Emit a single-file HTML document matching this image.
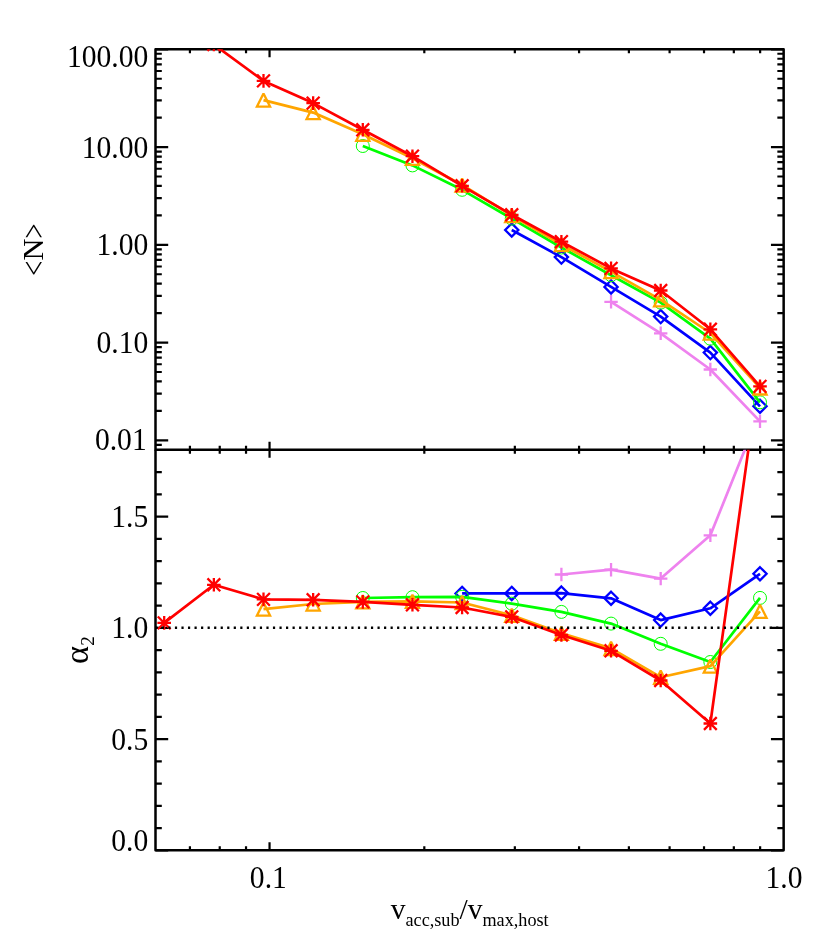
<!DOCTYPE html>
<html><head><meta charset="utf-8"><title>plot</title>
<style>html,body{margin:0;padding:0;background:#fff}svg{display:block;will-change:transform}text{font-family:"Liberation Serif",serif;fill:#000}</style></head><body>
<svg width="830" height="949" viewBox="0 0 830 949">
<rect width="830" height="949" fill="#fff"/>
<defs><clipPath id="c1"><rect x="155.5" y="49.3" width="628.15" height="400.5"/></clipPath><clipPath id="c2"><rect x="155.5" y="449.8" width="628.15" height="400.5"/></clipPath></defs>
<path d="M189.92 49.3v4M189.92 449.8v-4M219.73 49.3v4M219.73 449.8v-4M246.03 49.3v4M246.03 449.8v-4M269.55 49.3v8M269.55 449.8v-8M424.31 49.3v4M424.31 449.8v-4M514.84 49.3v4M514.84 449.8v-4M579.07 49.3v4M579.07 449.8v-4M628.89 49.3v4M628.89 449.8v-4M669.6 49.3v4M669.6 449.8v-4M704.02 49.3v4M704.02 449.8v-4M733.83 49.3v4M733.83 449.8v-4M760.13 49.3v4M760.13 449.8v-4M155.5 444.8h6.3M783.65 444.8h-6.3M155.5 440.33h12.7M783.65 440.33h-12.7M155.5 410.9h6.3M783.65 410.9h-6.3M155.5 393.68h6.3M783.65 393.68h-6.3M155.5 381.47h6.3M783.65 381.47h-6.3M155.5 372h6.3M783.65 372h-6.3M155.5 364.26h6.3M783.65 364.26h-6.3M155.5 357.71h6.3M783.65 357.71h-6.3M155.5 352.04h6.3M783.65 352.04h-6.3M155.5 347.04h6.3M783.65 347.04h-6.3M155.5 342.57h12.7M783.65 342.57h-12.7M155.5 313.14h6.3M783.65 313.14h-6.3M155.5 295.93h6.3M783.65 295.93h-6.3M155.5 283.71h6.3M783.65 283.71h-6.3M155.5 274.24h6.3M783.65 274.24h-6.3M155.5 266.5h6.3M783.65 266.5h-6.3M155.5 259.96h6.3M783.65 259.96h-6.3M155.5 254.29h6.3M783.65 254.29h-6.3M155.5 249.29h6.3M783.65 249.29h-6.3M155.5 244.81h12.7M783.65 244.81h-12.7M155.5 215.39h6.3M783.65 215.39h-6.3M155.5 198.17h6.3M783.65 198.17h-6.3M155.5 185.96h6.3M783.65 185.96h-6.3M155.5 176.48h6.3M783.65 176.48h-6.3M155.5 168.74h6.3M783.65 168.74h-6.3M155.5 162.2h6.3M783.65 162.2h-6.3M155.5 156.53h6.3M783.65 156.53h-6.3M155.5 151.53h6.3M783.65 151.53h-6.3M155.5 147.06h12.7M783.65 147.06h-12.7M155.5 117.63h6.3M783.65 117.63h-6.3M155.5 100.41h6.3M783.65 100.41h-6.3M155.5 88.2h6.3M783.65 88.2h-6.3M155.5 78.73h6.3M783.65 78.73h-6.3M155.5 70.99h6.3M783.65 70.99h-6.3M155.5 64.44h6.3M783.65 64.44h-6.3M155.5 58.77h6.3M783.65 58.77h-6.3M155.5 53.77h6.3M783.65 53.77h-6.3M155.5 49.3h12.7M783.65 49.3h-12.7" stroke="#000" stroke-width="2.2" fill="none"/><rect x="155.5" y="49.3" width="628.15" height="400.5" stroke="#000" stroke-width="2.5" fill="none" stroke-linejoin="round"/>
<g clip-path="url(#c1)">
<polyline points="611.05,301.8 660.7,333.3 710.35,369.5 760,421.4" stroke="#ee82ee" stroke-width="2.7" fill="none" stroke-linejoin="round"/>
<path d="M604.35 301.8H617.75M611.05 295.1V308.5" stroke="#ee82ee" stroke-width="2.3" fill="none"/>
<path d="M654 333.3H667.4M660.7 326.6V340" stroke="#ee82ee" stroke-width="2.3" fill="none"/>
<path d="M703.65 369.5H717.05M710.35 362.8V376.2" stroke="#ee82ee" stroke-width="2.3" fill="none"/>
<path d="M753.3 421.4H766.7M760 414.7V428.1" stroke="#ee82ee" stroke-width="2.3" fill="none"/>
<polyline points="511.75,230 561.4,257.1 611.05,286.9 660.7,316.6 710.35,352.6 760,406.3" stroke="#0000ff" stroke-width="2.7" fill="none" stroke-linejoin="round"/>
<path d="M511.75 223.4L518.35 230L511.75 236.6L505.15 230Z" stroke="#0000ff" stroke-width="2.3" fill="none"/>
<path d="M561.4 250.5L568 257.1L561.4 263.7L554.8 257.1Z" stroke="#0000ff" stroke-width="2.3" fill="none"/>
<path d="M611.05 280.3L617.65 286.9L611.05 293.5L604.45 286.9Z" stroke="#0000ff" stroke-width="2.3" fill="none"/>
<path d="M660.7 310L667.3 316.6L660.7 323.2L654.1 316.6Z" stroke="#0000ff" stroke-width="2.3" fill="none"/>
<path d="M710.35 346L716.95 352.6L710.35 359.2L703.75 352.6Z" stroke="#0000ff" stroke-width="2.3" fill="none"/>
<path d="M760 399.7L766.6 406.3L760 412.9L753.4 406.3Z" stroke="#0000ff" stroke-width="2.3" fill="none"/>
<polyline points="362.8,146 412.45,165.4 462.1,189.8 511.75,218.6 561.4,247.5 611.05,275.2 660.7,302.6 710.35,338.7 760,402.3" stroke="#00ff00" stroke-width="2.7" fill="none" stroke-linejoin="round"/>
<circle cx="362.8" cy="146" r="6.5" stroke="#00ff00" stroke-width="1" fill="none"/>
<circle cx="412.45" cy="165.4" r="6.5" stroke="#00ff00" stroke-width="1" fill="none"/>
<circle cx="462.1" cy="189.8" r="6.5" stroke="#00ff00" stroke-width="1" fill="none"/>
<circle cx="511.75" cy="218.6" r="6.5" stroke="#00ff00" stroke-width="1" fill="none"/>
<circle cx="561.4" cy="247.5" r="6.5" stroke="#00ff00" stroke-width="1" fill="none"/>
<circle cx="611.05" cy="275.2" r="6.5" stroke="#00ff00" stroke-width="1" fill="none"/>
<circle cx="660.7" cy="302.6" r="6.5" stroke="#00ff00" stroke-width="1" fill="none"/>
<circle cx="710.35" cy="338.7" r="6.5" stroke="#00ff00" stroke-width="1" fill="none"/>
<circle cx="760" cy="402.3" r="6.5" stroke="#00ff00" stroke-width="1" fill="none"/>
<polyline points="263.5,100.1 313.15,112.6 362.8,134.3 412.45,158.2 462.1,185 511.75,215.5 561.4,244.6 611.05,271.6 660.7,299.8 710.35,333 760,387.9" stroke="#ffa500" stroke-width="2.7" fill="none" stroke-linejoin="round"/>
<path d="M263.5 93.5L270.1 106.7L256.9 106.7Z" stroke="#ffa500" stroke-width="2.3" fill="none" stroke-linejoin="miter" stroke-miterlimit="2"/>
<path d="M313.15 106L319.75 119.2L306.55 119.2Z" stroke="#ffa500" stroke-width="2.3" fill="none" stroke-linejoin="miter" stroke-miterlimit="2"/>
<path d="M362.8 127.7L369.4 140.9L356.2 140.9Z" stroke="#ffa500" stroke-width="2.3" fill="none" stroke-linejoin="miter" stroke-miterlimit="2"/>
<path d="M412.45 151.6L419.05 164.8L405.85 164.8Z" stroke="#ffa500" stroke-width="2.3" fill="none" stroke-linejoin="miter" stroke-miterlimit="2"/>
<path d="M462.1 178.4L468.7 191.6L455.5 191.6Z" stroke="#ffa500" stroke-width="2.3" fill="none" stroke-linejoin="miter" stroke-miterlimit="2"/>
<path d="M511.75 208.9L518.35 222.1L505.15 222.1Z" stroke="#ffa500" stroke-width="2.3" fill="none" stroke-linejoin="miter" stroke-miterlimit="2"/>
<path d="M561.4 238L568 251.2L554.8 251.2Z" stroke="#ffa500" stroke-width="2.3" fill="none" stroke-linejoin="miter" stroke-miterlimit="2"/>
<path d="M611.05 265L617.65 278.2L604.45 278.2Z" stroke="#ffa500" stroke-width="2.3" fill="none" stroke-linejoin="miter" stroke-miterlimit="2"/>
<path d="M660.7 293.2L667.3 306.4L654.1 306.4Z" stroke="#ffa500" stroke-width="2.3" fill="none" stroke-linejoin="miter" stroke-miterlimit="2"/>
<path d="M710.35 326.4L716.95 339.6L703.75 339.6Z" stroke="#ffa500" stroke-width="2.3" fill="none" stroke-linejoin="miter" stroke-miterlimit="2"/>
<path d="M760 381.3L766.6 394.5L753.4 394.5Z" stroke="#ffa500" stroke-width="2.3" fill="none" stroke-linejoin="miter" stroke-miterlimit="2"/>
<polyline points="213.85,44.5 263.5,80.9 313.15,103.1 362.8,129.8 412.45,156.2 462.1,185.8 511.75,214.8 561.4,241.7 611.05,268.4 660.7,290.5 710.35,329.3 760,386.4" stroke="#ff0000" stroke-width="2.7" fill="none" stroke-linejoin="round"/>
<path d="M207.05 44.5H220.65M213.85 37.7V51.3M207.45 38.1L220.25 50.9M207.45 50.9L220.25 38.1" stroke="#ff0000" stroke-width="2.3" fill="none"/>
<path d="M256.7 80.9H270.3M263.5 74.1V87.7M257.1 74.5L269.9 87.3M257.1 87.3L269.9 74.5" stroke="#ff0000" stroke-width="2.3" fill="none"/>
<path d="M306.35 103.1H319.95M313.15 96.3V109.9M306.75 96.7L319.55 109.5M306.75 109.5L319.55 96.7" stroke="#ff0000" stroke-width="2.3" fill="none"/>
<path d="M356 129.8H369.6M362.8 123V136.6M356.4 123.4L369.2 136.2M356.4 136.2L369.2 123.4" stroke="#ff0000" stroke-width="2.3" fill="none"/>
<path d="M405.65 156.2H419.25M412.45 149.4V163M406.05 149.8L418.85 162.6M406.05 162.6L418.85 149.8" stroke="#ff0000" stroke-width="2.3" fill="none"/>
<path d="M455.3 185.8H468.9M462.1 179V192.6M455.7 179.4L468.5 192.2M455.7 192.2L468.5 179.4" stroke="#ff0000" stroke-width="2.3" fill="none"/>
<path d="M504.95 214.8H518.55M511.75 208V221.6M505.35 208.4L518.15 221.2M505.35 221.2L518.15 208.4" stroke="#ff0000" stroke-width="2.3" fill="none"/>
<path d="M554.6 241.7H568.2M561.4 234.9V248.5M555 235.3L567.8 248.1M555 248.1L567.8 235.3" stroke="#ff0000" stroke-width="2.3" fill="none"/>
<path d="M604.25 268.4H617.85M611.05 261.6V275.2M604.65 262L617.45 274.8M604.65 274.8L617.45 262" stroke="#ff0000" stroke-width="2.3" fill="none"/>
<path d="M653.9 290.5H667.5M660.7 283.7V297.3M654.3 284.1L667.1 296.9M654.3 296.9L667.1 284.1" stroke="#ff0000" stroke-width="2.3" fill="none"/>
<path d="M703.55 329.3H717.15M710.35 322.5V336.1M703.95 322.9L716.75 335.7M703.95 335.7L716.75 322.9" stroke="#ff0000" stroke-width="2.3" fill="none"/>
<path d="M753.2 386.4H766.8M760 379.6V393.2M753.6 380L766.4 392.8M753.6 392.8L766.4 380" stroke="#ff0000" stroke-width="2.3" fill="none"/>
</g>
<path d="M189.92 449.8v4M189.92 850.3v-4M219.73 449.8v4M219.73 850.3v-4M246.03 449.8v4M246.03 850.3v-4M269.55 449.8v8M269.55 850.3v-8M424.31 449.8v4M424.31 850.3v-4M514.84 449.8v4M514.84 850.3v-4M579.07 449.8v4M579.07 850.3v-4M628.89 449.8v4M628.89 850.3v-4M669.6 449.8v4M669.6 850.3v-4M704.02 449.8v4M704.02 850.3v-4M733.83 449.8v4M733.83 850.3v-4M760.13 449.8v4M760.13 850.3v-4M155.5 850.3h12.7M783.65 850.3h-12.7M155.5 828.05h6.3M783.65 828.05h-6.3M155.5 805.8h6.3M783.65 805.8h-6.3M155.5 783.55h6.3M783.65 783.55h-6.3M155.5 761.3h6.3M783.65 761.3h-6.3M155.5 739.05h12.7M783.65 739.05h-12.7M155.5 716.8h6.3M783.65 716.8h-6.3M155.5 694.55h6.3M783.65 694.55h-6.3M155.5 672.3h6.3M783.65 672.3h-6.3M155.5 650.05h6.3M783.65 650.05h-6.3M155.5 627.8h12.7M783.65 627.8h-12.7M155.5 605.55h6.3M783.65 605.55h-6.3M155.5 583.3h6.3M783.65 583.3h-6.3M155.5 561.05h6.3M783.65 561.05h-6.3M155.5 538.8h6.3M783.65 538.8h-6.3M155.5 516.55h12.7M783.65 516.55h-12.7M155.5 494.3h6.3M783.65 494.3h-6.3M155.5 472.05h6.3M783.65 472.05h-6.3" stroke="#000" stroke-width="2.2" fill="none"/><path d="M155.5 449.8V850.3H783.65V449.8" stroke="#000" stroke-width="2.5" fill="none" stroke-linejoin="round"/>
<g clip-path="url(#c2)">
<polyline points="561.4,574.5 611.05,569.7 660.7,578.6 710.35,535.3 760,412" stroke="#ee82ee" stroke-width="2.7" fill="none" stroke-linejoin="round"/>
<path d="M554.7 574.5H568.1M561.4 567.8V581.2" stroke="#ee82ee" stroke-width="2.3" fill="none"/>
<path d="M604.35 569.7H617.75M611.05 563V576.4" stroke="#ee82ee" stroke-width="2.3" fill="none"/>
<path d="M654 578.6H667.4M660.7 571.9V585.3" stroke="#ee82ee" stroke-width="2.3" fill="none"/>
<path d="M703.65 535.3H717.05M710.35 528.6V542" stroke="#ee82ee" stroke-width="2.3" fill="none"/>
<path d="M753.3 412H766.7M760 405.3V418.7" stroke="#ee82ee" stroke-width="2.3" fill="none"/>
<polyline points="462.1,593.4 511.75,593.4 561.4,593.1 611.05,598.3 660.7,620.1 710.35,608.3 760,573.8" stroke="#0000ff" stroke-width="2.7" fill="none" stroke-linejoin="round"/>
<path d="M462.1 586.8L468.7 593.4L462.1 600L455.5 593.4Z" stroke="#0000ff" stroke-width="2.3" fill="none"/>
<path d="M511.75 586.8L518.35 593.4L511.75 600L505.15 593.4Z" stroke="#0000ff" stroke-width="2.3" fill="none"/>
<path d="M561.4 586.5L568 593.1L561.4 599.7L554.8 593.1Z" stroke="#0000ff" stroke-width="2.3" fill="none"/>
<path d="M611.05 591.7L617.65 598.3L611.05 604.9L604.45 598.3Z" stroke="#0000ff" stroke-width="2.3" fill="none"/>
<path d="M660.7 613.5L667.3 620.1L660.7 626.7L654.1 620.1Z" stroke="#0000ff" stroke-width="2.3" fill="none"/>
<path d="M710.35 601.7L716.95 608.3L710.35 614.9L703.75 608.3Z" stroke="#0000ff" stroke-width="2.3" fill="none"/>
<path d="M760 567.2L766.6 573.8L760 580.4L753.4 573.8Z" stroke="#0000ff" stroke-width="2.3" fill="none"/>
<polyline points="362.8,598 412.45,597.2 462.1,596.8 511.75,603.7 561.4,611.9 611.05,623.6 660.7,643.8 710.35,662 760,597.9" stroke="#00ff00" stroke-width="2.7" fill="none" stroke-linejoin="round"/>
<circle cx="362.8" cy="598" r="6.5" stroke="#00ff00" stroke-width="1" fill="none"/>
<circle cx="412.45" cy="597.2" r="6.5" stroke="#00ff00" stroke-width="1" fill="none"/>
<circle cx="462.1" cy="596.8" r="6.5" stroke="#00ff00" stroke-width="1" fill="none"/>
<circle cx="511.75" cy="603.7" r="6.5" stroke="#00ff00" stroke-width="1" fill="none"/>
<circle cx="561.4" cy="611.9" r="6.5" stroke="#00ff00" stroke-width="1" fill="none"/>
<circle cx="611.05" cy="623.6" r="6.5" stroke="#00ff00" stroke-width="1" fill="none"/>
<circle cx="660.7" cy="643.8" r="6.5" stroke="#00ff00" stroke-width="1" fill="none"/>
<circle cx="710.35" cy="662" r="6.5" stroke="#00ff00" stroke-width="1" fill="none"/>
<circle cx="760" cy="597.9" r="6.5" stroke="#00ff00" stroke-width="1" fill="none"/>
<polyline points="263.5,609.1 313.15,604 362.8,601.8 412.45,601.3 462.1,602.5 511.75,615.3 561.4,633.3 611.05,648.4 660.7,677.2 710.35,666.1 760,611.3" stroke="#ffa500" stroke-width="2.7" fill="none" stroke-linejoin="round"/>
<path d="M263.5 602.5L270.1 615.7L256.9 615.7Z" stroke="#ffa500" stroke-width="2.3" fill="none" stroke-linejoin="miter" stroke-miterlimit="2"/>
<path d="M313.15 597.4L319.75 610.6L306.55 610.6Z" stroke="#ffa500" stroke-width="2.3" fill="none" stroke-linejoin="miter" stroke-miterlimit="2"/>
<path d="M362.8 595.2L369.4 608.4L356.2 608.4Z" stroke="#ffa500" stroke-width="2.3" fill="none" stroke-linejoin="miter" stroke-miterlimit="2"/>
<path d="M412.45 594.7L419.05 607.9L405.85 607.9Z" stroke="#ffa500" stroke-width="2.3" fill="none" stroke-linejoin="miter" stroke-miterlimit="2"/>
<path d="M462.1 595.9L468.7 609.1L455.5 609.1Z" stroke="#ffa500" stroke-width="2.3" fill="none" stroke-linejoin="miter" stroke-miterlimit="2"/>
<path d="M511.75 608.7L518.35 621.9L505.15 621.9Z" stroke="#ffa500" stroke-width="2.3" fill="none" stroke-linejoin="miter" stroke-miterlimit="2"/>
<path d="M561.4 626.7L568 639.9L554.8 639.9Z" stroke="#ffa500" stroke-width="2.3" fill="none" stroke-linejoin="miter" stroke-miterlimit="2"/>
<path d="M611.05 641.8L617.65 655L604.45 655Z" stroke="#ffa500" stroke-width="2.3" fill="none" stroke-linejoin="miter" stroke-miterlimit="2"/>
<path d="M660.7 670.6L667.3 683.8L654.1 683.8Z" stroke="#ffa500" stroke-width="2.3" fill="none" stroke-linejoin="miter" stroke-miterlimit="2"/>
<path d="M710.35 659.5L716.95 672.7L703.75 672.7Z" stroke="#ffa500" stroke-width="2.3" fill="none" stroke-linejoin="miter" stroke-miterlimit="2"/>
<path d="M760 604.7L766.6 617.9L753.4 617.9Z" stroke="#ffa500" stroke-width="2.3" fill="none" stroke-linejoin="miter" stroke-miterlimit="2"/>
<polyline points="164.2,622.9 213.85,584.8 263.5,599.4 313.15,599.8 362.8,601.9 412.45,604.8 462.1,607.5 511.75,616.9 561.4,635 611.05,650.8 660.7,680.5 710.35,723.5 760,366" stroke="#ff0000" stroke-width="2.7" fill="none" stroke-linejoin="round"/>
<path d="M157.4 622.9H171M164.2 616.1V629.7M157.8 616.5L170.6 629.3M157.8 629.3L170.6 616.5" stroke="#ff0000" stroke-width="2.3" fill="none"/>
<path d="M207.05 584.8H220.65M213.85 578V591.6M207.45 578.4L220.25 591.2M207.45 591.2L220.25 578.4" stroke="#ff0000" stroke-width="2.3" fill="none"/>
<path d="M256.7 599.4H270.3M263.5 592.6V606.2M257.1 593L269.9 605.8M257.1 605.8L269.9 593" stroke="#ff0000" stroke-width="2.3" fill="none"/>
<path d="M306.35 599.8H319.95M313.15 593V606.6M306.75 593.4L319.55 606.2M306.75 606.2L319.55 593.4" stroke="#ff0000" stroke-width="2.3" fill="none"/>
<path d="M356 601.9H369.6M362.8 595.1V608.7M356.4 595.5L369.2 608.3M356.4 608.3L369.2 595.5" stroke="#ff0000" stroke-width="2.3" fill="none"/>
<path d="M405.65 604.8H419.25M412.45 598V611.6M406.05 598.4L418.85 611.2M406.05 611.2L418.85 598.4" stroke="#ff0000" stroke-width="2.3" fill="none"/>
<path d="M455.3 607.5H468.9M462.1 600.7V614.3M455.7 601.1L468.5 613.9M455.7 613.9L468.5 601.1" stroke="#ff0000" stroke-width="2.3" fill="none"/>
<path d="M504.95 616.9H518.55M511.75 610.1V623.7M505.35 610.5L518.15 623.3M505.35 623.3L518.15 610.5" stroke="#ff0000" stroke-width="2.3" fill="none"/>
<path d="M554.6 635H568.2M561.4 628.2V641.8M555 628.6L567.8 641.4M555 641.4L567.8 628.6" stroke="#ff0000" stroke-width="2.3" fill="none"/>
<path d="M604.25 650.8H617.85M611.05 644V657.6M604.65 644.4L617.45 657.2M604.65 657.2L617.45 644.4" stroke="#ff0000" stroke-width="2.3" fill="none"/>
<path d="M653.9 680.5H667.5M660.7 673.7V687.3M654.3 674.1L667.1 686.9M654.3 686.9L667.1 674.1" stroke="#ff0000" stroke-width="2.3" fill="none"/>
<path d="M703.55 723.5H717.15M710.35 716.7V730.3M703.95 717.1L716.75 729.9M703.95 729.9L716.75 717.1" stroke="#ff0000" stroke-width="2.3" fill="none"/>
<path d="M753.2 366H766.8M760 359.2V372.8M753.6 359.6L766.4 372.4M753.6 372.4L766.4 359.6" stroke="#ff0000" stroke-width="2.3" fill="none"/>
</g>
<line x1="155.3" y1="627.8" x2="783.65" y2="627.8" stroke="#000" stroke-width="2.4" stroke-dasharray="2.2 4.335"/>
<text transform="translate(148.3 67.1) scale(1 1.045)" font-size="29.6" text-anchor="end">100.00</text>
<text transform="translate(148.3 157.56) scale(1 1.045)" font-size="29.6" text-anchor="end">10.00</text>
<text transform="translate(148.3 255.31) scale(1 1.045)" font-size="29.6" text-anchor="end">1.00</text>
<text transform="translate(148.3 353.07) scale(1 1.045)" font-size="29.6" text-anchor="end">0.10</text>
<text transform="translate(146.7 450.3) scale(1 1.045)" font-size="29.6" text-anchor="end">0.01</text>
<text transform="translate(148.3 527.05) scale(1 1.045)" font-size="29.6" text-anchor="end">1.5</text>
<text transform="translate(148.3 638.3) scale(1 1.045)" font-size="29.6" text-anchor="end">1.0</text>
<text transform="translate(148.3 749.55) scale(1 1.045)" font-size="29.6" text-anchor="end">0.5</text>
<text transform="translate(148.3 850.7) scale(1 1.045)" font-size="29.6" text-anchor="end">0.0</text>
<text transform="translate(268.35 887.7) scale(1 1.045)" font-size="29.6" text-anchor="middle">0.1</text>
<text transform="translate(784.05 887.7) scale(1 1.045)" font-size="29.6" text-anchor="middle">1.0</text>
<text x="469.7" y="919" font-size="29.5" text-anchor="middle">v<tspan font-size="18.2" dy="7">acc,sub</tspan><tspan dy="-7">/v</tspan><tspan font-size="18.2" dy="7">max,host</tspan></text>
<text transform="translate(43.3 249.6) rotate(-90) scale(1.03 1.02)" font-size="29.5" text-anchor="middle">N</text>
<text transform="translate(44.6 268.3) rotate(-90) scale(0.9 1.15)" font-size="29.5" text-anchor="middle">&lt;</text>
<text transform="translate(44.6 230.9) rotate(-90) scale(0.9 1.15)" font-size="29.5" text-anchor="middle">&gt;</text>
<text transform="translate(88.3 664.1) rotate(-90) scale(0.98 0.94)" font-size="35">α</text>
<text transform="translate(94.4 645.8) rotate(-90)" font-size="19">2</text>
</svg></body></html>
